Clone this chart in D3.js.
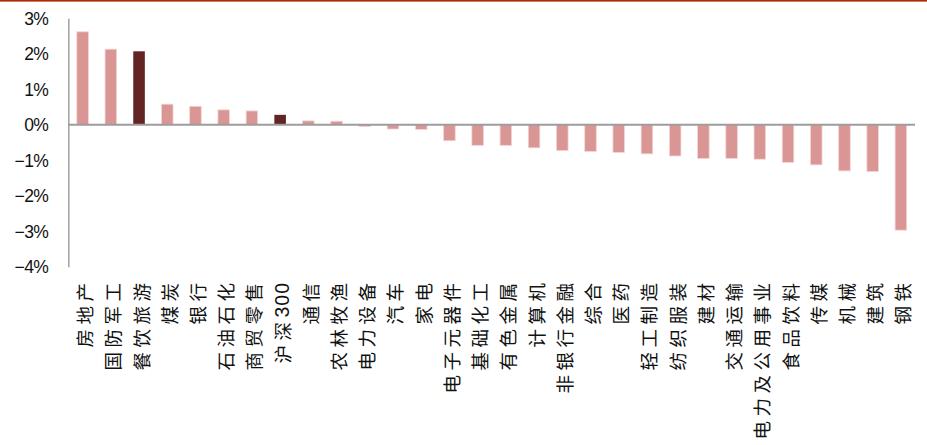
<!DOCTYPE html>
<html>
<head>
<meta charset="utf-8">
<script src="https://cdn.jsdelivr.net/npm/d3@7"></script>
<style>
  html, body { margin: 0; padding: 0; background: #fff; }
  svg { display: block; }
</style>
</head>
<body>
<svg id="chart" width="927" height="445"></svg>
<script>
const categories = ["房地产","国防军工","餐饮旅游","煤炭","银行","石油石化","商贸零售","沪深300","通信","农林牧渔","电力设备","汽车","家电","电子元器件","基础化工","有色金属","计算机","非银行金融","综合","医药","轻工制造","纺织服装","建材","交通运输","电力及公用事业","食品饮料","传媒","机械","建筑","钢铁"];
const values = [2.62, 2.13, 2.07, 0.58, 0.52, 0.42, 0.39, 0.28, 0.11, 0.10, -0.05, -0.12, -0.13, -0.45, -0.58, -0.58, -0.65, -0.73, -0.75, -0.78, -0.82, -0.88, -0.95, -0.95, -0.97, -1.06, -1.13, -1.30, -1.32, -2.97];
const highlighted = ["餐饮旅游", "沪深300"];
const yTicks = [3, 2, 1, 0, -1, -2, -3, -4];

const svg = d3.select("#chart");
const W = 927, H = 445;

// top accent line
svg.append("rect").attr("x", 0).attr("y", 0).attr("width", W).attr("height", 1.6).attr("fill", "#ac2a08");

const x = d3.scaleBand().domain(categories).range([68.5, 915]).paddingInner(0.59).paddingOuter(0.295);
const y = d3.scaleLinear().domain([-4, 3]).range([266.7, 18.3]);

// bars
svg.append("g").selectAll("rect").data(categories).join("rect")
  .attr("x", d => x(d))
  .attr("width", x.bandwidth())
  .attr("y", (d, i) => y(Math.max(0, values[i])))
  .attr("height", (d, i) => Math.abs(y(values[i]) - y(0)))
  .attr("fill", d => highlighted.includes(d) ? "#632423" : "#d99694")
  .attr("stroke", d => highlighted.includes(d) ? "none" : "#f2d6d5")
  .attr("stroke-width", 0.8);

// y axis
const yAxis = d3.axisLeft(y).tickValues(yTicks).tickSize(0).tickPadding(0)
  .tickFormat(d => (d < 0 ? "\u2212" + Math.abs(d) : d) + "%");
const gy = svg.append("g").attr("transform", "translate(68.3,0)").call(yAxis);
gy.select(".domain").attr("stroke", "#a6a6a6").attr("stroke-width", 1.6);
gy.selectAll("text")
  .attr("x", -20)
  .attr("dy", "0.35em")
  .attr("font-family", "'Liberation Sans', Arial, sans-serif")
  .attr("font-size", 17.5)
  .attr("letter-spacing", "-0.6px")
  .attr("fill", "#111");

// zero line
svg.append("line")
  .attr("x1", 68).attr("x2", 915)
  .attr("y1", y(0)).attr("y2", y(0))
  .attr("stroke", "#9d9d9d").attr("stroke-width", 2.2);

// x labels: rotated -90, reading bottom-to-top, anchored at top
const labelTop = 283;
const lg = svg.append("g").attr("fill", "#111");
categories.forEach(cat => {
  const cx = x(cat) + x.bandwidth() / 2 + 1.5;
  const t = lg.append("text")
    .attr("transform", `translate(${cx},${labelTop}) rotate(-90)`)
    .attr("text-anchor", "start")
    .attr("dominant-baseline", "central")
    .attr("font-family", "'Noto Sans CJK SC', 'Noto Sans CJK JP', sans-serif")
    .attr("font-size", 18.5);
  const tokens = cat.match(/[0-9A-Za-z]+|./g);
  tokens.forEach(tok => {
    if (/^[0-9A-Za-z]+$/.test(tok)) {
      t.append("tspan")
        .attr("font-family", "'Liberation Sans', Arial, sans-serif")
        .attr("font-size", 19.5)
        .attr("letter-spacing", "1px")
        .text(tok);
    } else {
      t.append("tspan").attr("letter-spacing", "4.5px").text(tok);
    }
  });
  // place so that the end of the text (last glyph) sits at labelTop
  const len = t.node().getComputedTextLength();
  const last = tokens[tokens.length - 1];
  const trailing = /^[0-9A-Za-z]+$/.test(last) ? 1 : 4.5;
  t.attr("transform", `translate(${cx},${labelTop - trailing + len}) rotate(-90)`);
});
</script>
</body>
</html>
